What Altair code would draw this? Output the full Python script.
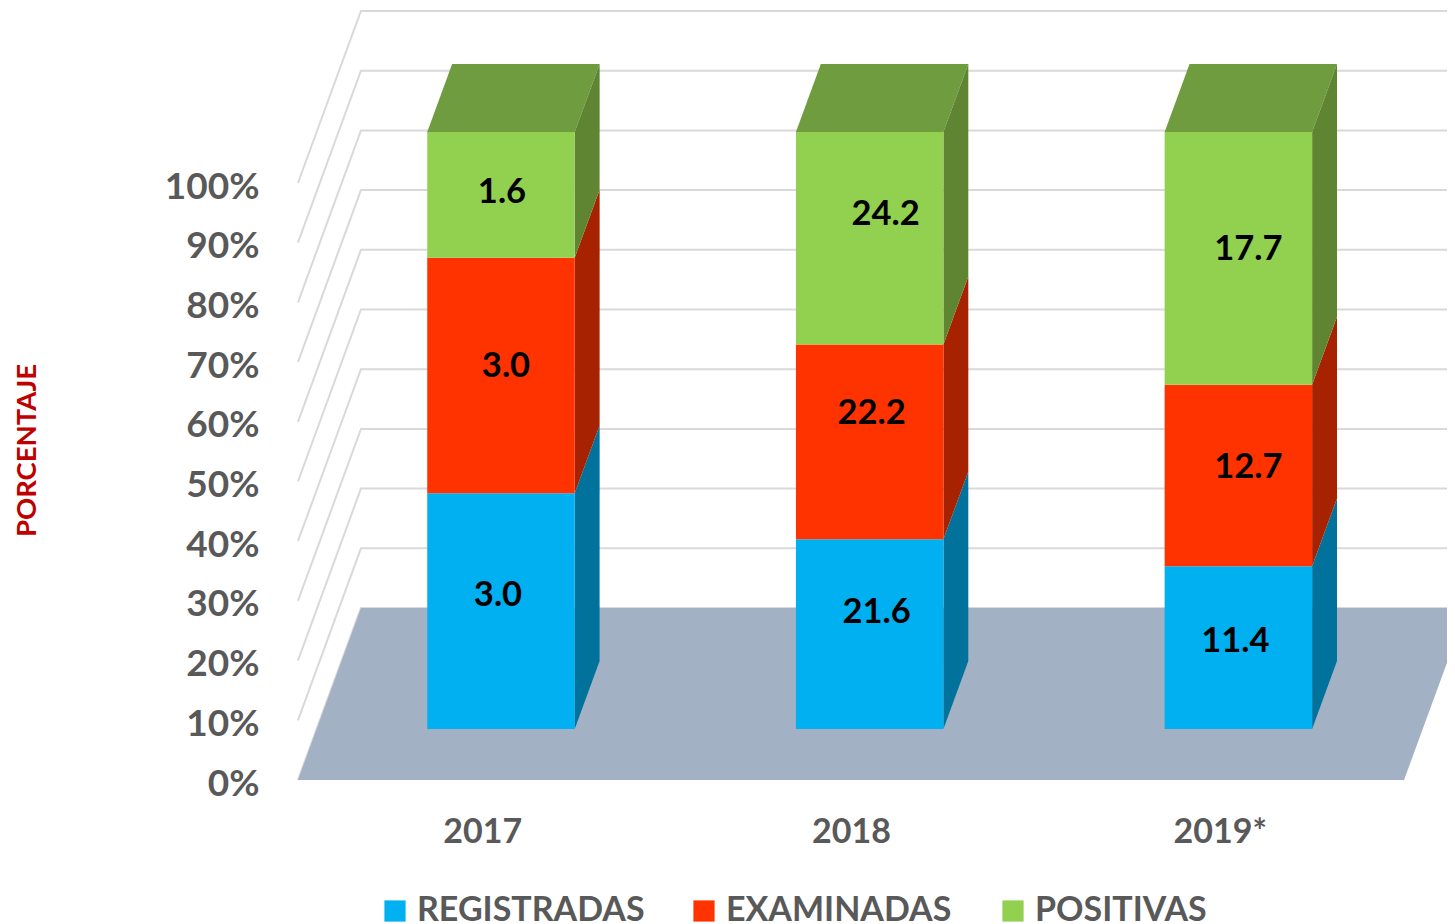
import altair as alt
import pandas as pd

# ---- chart values ----
years = ["2017", "2018", "2019*"]
series = ["REGISTRADAS", "EXAMINADAS", "POSITIVAS"]
registradas = [3.0, 21.6, 11.4]
examinadas = [3.0, 22.2, 12.7]
positivas = [1.6, 24.2, 17.7]
percent_ticks = list(range(0, 101, 10))

# ---- styling ----
front_colors = ["#00B0F0", "#FF3300", "#92D050"]
side_colors = ["#00729C", "#A62200", "#5F8533"]
top_color = "#6F9C3E"
floor_color = "#A3B1C4"
wall_color = "#D9D9D9"
text_grey = "#595959"
FONT = "Lato"

# ---- layout: plot area and pseudo-3D projection ----
PAD_LEFT, PAD_TOP, PW, PH = 257, 0, 1182, 782
PX_PER_CAT, PX_PER_PCT = 368.7, 5.97
X_ZERO_PX, Y_ZERO_PX = 482.3 - 265, 772.0
x_domain = [-X_ZERO_PX / PX_PER_CAT, (PW - X_ZERO_PX) / PX_PER_CAT]
y_domain = [(Y_ZERO_PX - PH) / PX_PER_PCT, Y_ZERO_PX / PX_PER_PCT]
DEPTH_X = 63 / PX_PER_CAT      # category units for the whole depth of the floor
DEPTH_Y = 172 / PX_PER_PCT     # percent units for the whole depth of the floor
BAR_D0, BAR_D1 = 0.2965, 0.6915
BAR_W = 0.4

# manual label placement of the original, relative to the centre of each segment (px)
label_shift_x = {"REGISTRADAS": [-3, 7, -3], "EXAMINADAS": [5, 2, 10], "POSITIVAS": [1, 16, 10]}
label_shift_up = {"REGISTRADAS": [15, 21, 6], "EXAMINADAS": [9, 28, 7], "POSITIVAS": [2, 23, 8]}


def px(cat, d):
    return cat + DEPTH_X * d


def py(pct, d):
    return pct + DEPTH_Y * d


values = {"REGISTRADAS": registradas, "EXAMINADAS": examinadas, "POSITIVAS": positivas}
fronts, sides, tops, labels = [], [], [], []
for i, yr in enumerate(years):
    total = sum(values[s][i] for s in series)
    base = 0.0
    l, r = i - BAR_W / 2, i + BAR_W / 2
    for s in series:
        v = values[s][i]
        share = 100 * v / total
        lo, hi = base, base + share
        fronts.append(dict(year=yr, series=s, x=px(l, BAR_D0), x2=px(r, BAR_D0),
                           y=py(lo, BAR_D0), y2=py(hi, BAR_D0)))
        for d in (BAR_D0, BAR_D1):
            sides.append(dict(year=yr, series=s, x=px(r, d), y=py(lo, d), y2=py(hi, d)))
        labels.append(dict(text=f"{v:.1f}",
                           x=px(i, BAR_D0) + label_shift_x[s][i] / PX_PER_CAT,
                           y=py((lo + hi) / 2, BAR_D0) + label_shift_up[s][i] / PX_PER_PCT))
        base = hi
    for d in (BAR_D0, BAR_D1):
        tops.append(dict(year=yr, y=py(100, d), x=px(l, d), x2=px(r, d)))

floor = [dict(y=py(0, d), x=px(-0.5, d), x2=px(2.5, d)) for d in (0, 1)]
walls = []
for t in percent_ticks:
    for k, (c, d) in enumerate([(-0.5, 0), (-0.5, 1), (2.5, 1)]):
        walls.append(dict(level=t, k=k, x=px(c, d), y=py(t, d), tick=t))

xs = alt.Scale(domain=x_domain, nice=False, zero=False)
ys = alt.Scale(domain=y_domain, nice=False, zero=False)

x_axis = alt.Axis(values=[0, 1, 2], labelExpr="['2017','2018','2019*'][datum.value]", title=None,
                  domain=False, ticks=False, grid=False, labelFont=FONT, labelFontWeight="bold",
                  labelFontSize=34, labelColor=text_grey, labelPadding=25, labelOverlap=False,
                  labelFlush=False)
y_axis = alt.Axis(values=percent_ticks, labelExpr="datum.value + '%'", title="PORCENTAJE",
                  domain=False, ticks=False, grid=False, labelFont=FONT, labelFontWeight="bold",
                  labelFontSize=37, labelColor=text_grey, labelPadding=6, labelOffset=4,
                  labelOverlap=False, labelFlush=False,
                  titleFont=FONT, titleFontWeight="bold", titleFontSize=27.5, titleColor="#C00000",
                  titleX=-238, titleY=442, titleAngle=270, titleAlign="center", titleBaseline="middle")

X = alt.X("x:Q", scale=xs, axis=x_axis)
Y = alt.Y("y:Q", scale=ys, axis=y_axis, stack=None)

wall_layer = alt.Chart(pd.DataFrame(walls)).mark_line(color=wall_color, strokeWidth=2, clip=True).encode(
    x=X,
    y=Y,
    detail="level:N",
    order="k:Q",
)
floor_layer = alt.Chart(pd.DataFrame(floor)).mark_area(orient="horizontal", color=floor_color, opacity=1, clip=True).encode(
    y=Y,
    x=alt.X("x:Q", scale=xs, axis=x_axis, stack=None),
    x2="x2:Q",
)
top_layer = alt.Chart(pd.DataFrame(tops)).mark_area(orient="horizontal", color=top_color, opacity=1).encode(
    y=Y,
    x=alt.X("x:Q", scale=xs, axis=x_axis, stack=None),
    x2="x2:Q",
    detail="year:N",
)
side_layer = alt.Chart(pd.DataFrame(sides)).mark_area(orient="vertical", opacity=1).encode(
    x=X,
    y=Y,
    y2="y2:Q",
    color=alt.Color("series:N", scale=alt.Scale(domain=series, range=side_colors), legend=None),
    detail="year:N",
)
front_layer = alt.Chart(pd.DataFrame(fronts)).mark_rect().encode(
    x=X,
    x2="x2:Q",
    y=Y,
    y2="y2:Q",
    color=alt.Color("series:N", scale=alt.Scale(domain=series, range=front_colors),
                    legend=alt.Legend(orient="none", legendX=113, legendY=886, direction="horizontal",
                                      columns=3, gridAlign="all", columnPadding=42, title=None,
                                      symbolType="square", symbolSize=450, symbolStrokeWidth=0,
                                      labelFont=FONT, labelFontWeight="bold", labelFontSize=34,
                                      labelColor=text_grey, labelLimit=400, labelOffset=5)),
)
label_layer = alt.Chart(pd.DataFrame(labels)).mark_text(
    font=FONT, fontWeight="bold", fontSize=34.5, color="black", align="center", baseline="middle"
).encode(
    x=X,
    y=Y,
    text="text:N",
)

chart = (
    alt.layer(wall_layer, floor_layer, top_layer, side_layer, front_layer, label_layer)
    .resolve_scale(color="independent")
    .properties(
        width=PW, height=PH, background="white",
        padding={"left": PAD_LEFT, "top": PAD_TOP, "right": 0, "bottom": 134},
        autosize=alt.AutoSizeParams(type="none"),
    )
    .configure_view(stroke=None)
)
chart.save("out.html", embed_options={"renderer": "svg", "actions": False})
